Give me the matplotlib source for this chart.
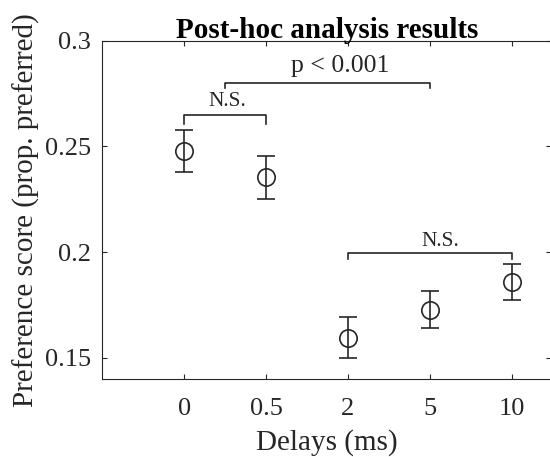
import matplotlib
matplotlib.use('Agg')
from matplotlib import pyplot as plt

# data
delays = ['0', '0.5', '2', '5', '10']
scores = [0.248, 0.2354, 0.1595, 0.1728, 0.1859]
errors = [0.0099, 0.0101, 0.0098, 0.0087, 0.0087]

# significance brackets: (x1, x2, height, drop, text, text_x, text_y, size)
brackets = [
    (1, 2, 0.2650, 0.0045, 'N.S.', 1.53, 0.2715, 15.5),
    (1.5, 4, 0.2802, 0.0025, 'p < 0.001', 2.91, 0.2883, 18.5),
    (3, 5, 0.1997, 0.0030, 'N.S.', 4.13, 0.2052, 15.5),
]

col = '#262626'
plt.rcParams['font.family'] = 'Liberation Serif'

fig = plt.figure(figsize=(5.5, 4.57), dpi=100)
ax = fig.add_axes([0.186, 0.1707, 0.8167, 0.740])

x = range(1, len(delays) + 1)
ax.errorbar(x, scores, yerr=errors, fmt='o', color=col, mfc='none', mec=col,
            markersize=12.5, capsize=6.2, elinewidth=1.2, capthick=1.2, mew=1.2)

for x1, x2, h, d, txt, tx, ty, fs in brackets:
    ax.plot([x1, x1, x2, x2], [h - d, h, h, h - d], color=col, lw=1.2)
    ax.text(tx, ty, txt, ha='center', va='center', fontsize=fs, color=col)

ax.set_xlim(0, 5.485)
ax.set_ylim(0.14, 0.3)
ax.set_xticks(list(x))
ax.set_xticklabels(delays)
ax.set_yticks([0.15, 0.2, 0.25, 0.3])
ax.set_yticklabels(['0.15', '0.2', '0.25', '0.3'])
ax.tick_params(direction='in', length=3.3, width=0.8, top=True, right=True,
               labelsize=19, colors=col)
ax.tick_params(axis='x', pad=14)
ax.tick_params(axis='y', pad=8)
for s in ax.spines.values():
    s.set_color(col)
    s.set_linewidth(0.8)
# the right edge of the box lies just outside the picture
ax.spines['right'].set_visible(False)

ax.set_xlabel('Delays (ms)', fontsize=21, color=col, labelpad=6.5)
ax.set_ylabel('Preference score (prop. preferred)', fontsize=21, color=col, labelpad=4)
ax.set_title('Post-hoc analysis results', fontsize=21, fontweight='bold', color='black', pad=2)

fig.savefig('out.png', dpi=100)
